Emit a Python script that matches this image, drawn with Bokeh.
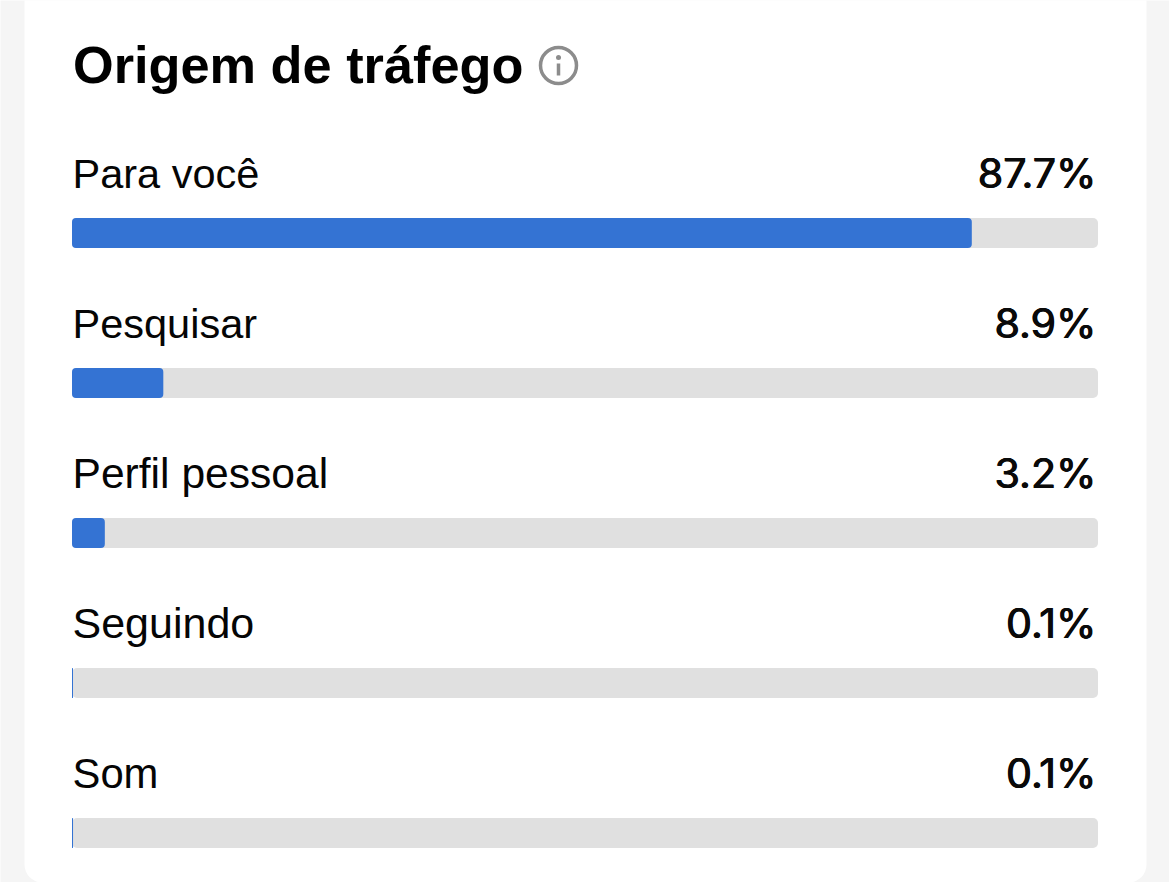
from bokeh.plotting import figure
from bokeh.models import ColumnDataSource, Range1d, BoxAnnotation, Label
from bokeh.core.properties import value
from bokeh.embed import file_html
from bokeh.resources import INLINE

title = "Origem de tráfego"
categories = ["Para você", "Pesquisar", "Perfil pessoal", "Seguindo", "Som"]
shares = [87.7, 8.9, 3.2, 0.1, 0.1]
share_labels = ["87.7%", "8.9%", "3.2%", "0.1%", "0.1%"]
label_sizes = ["41.5px", "41.5px", "42.6px", "43px", "41.8px"]

W, H = 1169, 882
SX = 10.26   # px per percent
SY = 150.0   # px per row
X0, Y0 = 71.5, 232.5

rows = list(range(len(categories)))
src = ColumnDataSource(dict(y=rows, share=shares, full=[100] * len(rows),
                            left=[0] * len(rows), cat=categories, lab=share_labels,
                            size=label_sizes))

p = figure(width=W, height=H, output_backend="svg", toolbar_location=None,
           x_range=Range1d(-X0 / SX, (W - X0) / SX),
           y_range=Range1d((H - Y0) / SY, -Y0 / SY),
           min_border=0, outline_line_color=None,
           background_fill_color="#f5f5f5", border_fill_color="#f5f5f5")
p.xaxis.visible = False
p.yaxis.visible = False
p.grid.visible = False

p.add_layout(BoxAnnotation(left=24, right=1146, top=H + 40, bottom=0,
                           left_units="screen", right_units="screen",
                           top_units="screen", bottom_units="screen",
                           fill_color="#ffffff", fill_alpha=1, line_color=None,
                           border_radius=18, level="underlay"))

p.hbar(y="y", left="left", right="full", height=0.2, source=src,
       fill_color="#e0e0e0", line_color=None, border_radius=5)
p.hbar(y="y", left="left", right="share", height=0.2, source=src,
       fill_color="#3473d3", line_color=None, border_radius=4)

p.text(x="left", y="y", text="cat", source=src, x_offset=0.5, y_offset=-60,
       text_font=value("Liberation Sans"), text_font_size="size",
       text_color="#050505", text_baseline="alphabetic", text_align="left")
# values: repeated passes slightly offset give the medium weight of the reference
for dx in (-2.0, -1.5, -1.0):
    p.text(x="full", y="y", text="lab", source=src, x_offset=dx, y_offset=-60,
           text_font=value("Inter"), text_font_size="41.2px",
           text_color="#0a0a0a", text_baseline="alphabetic", text_align="right")

p.add_layout(Label(x=72.5, y=H - 64, x_units="screen", y_units="screen", text=title,
                   text_font="Liberation Sans", text_font_style="bold",
                   text_font_size="52.3px", text_color="#000000",
                   text_baseline="alphabetic"))

# info icon
ix, iy = (558 - X0) / SX, (65 - Y0) / SY
p.scatter([ix], [iy], size=36, marker="circle", fill_color=None,
          line_color="#8c8c8c", line_width=3.5)
p.scatter([ix], [iy - 8 / SY], size=5, marker="circle", fill_color="#8c8c8c", line_color=None)
p.segment([ix], [iy - 2 / SY], [ix], [iy + 10 / SY], line_color="#8c8c8c", line_width=3.5)

html = file_html(p, INLINE)
html = html.replace("<body>", '<body style="margin:0;background:#f5f5f5;overflow:hidden">', 1)
open("out.html", "w").write(html)
